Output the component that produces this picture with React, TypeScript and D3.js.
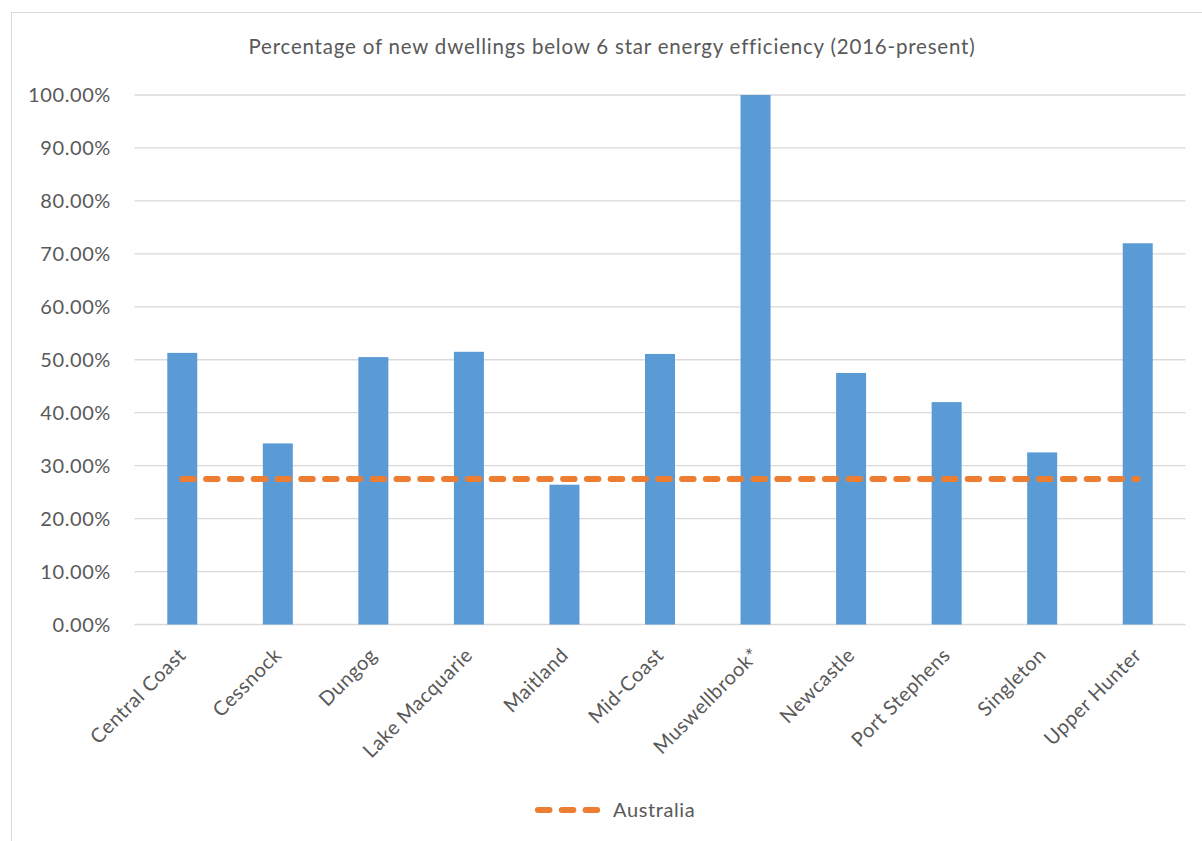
import React, { useRef, useEffect } from 'react';
import * as d3 from 'd3';

const categories = [
    'Central Coast',
    'Cessnock',
    'Dungog',
    'Lake Macquarie',
    'Maitland',
    'Mid-Coast',
    'Muswellbrook*',
    'Newcastle',
    'Port Stephens',
    'Singleton',
    'Upper Hunter'
]
const values = [51.3, 34.2, 50.5, 51.5, 26.4, 51.1, 100, 47.5, 42.0, 32.5, 72.0]
const australia = [27.5, 27.5, 27.5, 27.5, 27.5, 27.5, 27.5, 27.5, 27.5, 27.5, 27.5]
const yTicks = [0, 10, 20, 30, 40, 50, 60, 70, 80, 90, 100]

const title = 'Percentage of new dwellings below 6 star energy efficiency (2016-present)'

function App() {
    const ref = useRef<SVGSVGElement>(null)

    useEffect(() => {
        document.body.style.margin = '0'
        drawChart()
    }, [])

    const drawChart = () => {
        const W = 1202
        const H = 841
        const plot = { left: 134.5, right: 1185.5, top: 95, bottom: 624.5 }
        const font = 'Lato, "Open Sans", sans-serif'
        const textColor = '#595959'

        const svg = d3.select(ref.current)
        svg.selectAll('*').remove()

        // chart frame
        svg
            .append('rect')
            .attr('x', 11.5)
            .attr('y', 12.5)
            .attr('width', W)
            .attr('height', H)
            .attr('fill', 'white')
            .attr('stroke', '#d9d9d9')
            .attr('stroke-width', 1)

        const x = d3
            .scaleBand()
            .domain(categories)
            .range([plot.left, plot.right])
            .paddingInner(0.686)
            .paddingOuter(0.343)

        const xc = d3
            .scalePoint()
            .domain(categories)
            .range([plot.left, plot.right])
            .padding(0.5)

        const y = d3.scaleLinear().domain([0, 100]).range([plot.bottom, plot.top])

        // gridlines
        svg
            .append('g')
            .selectAll('line')
            .data(yTicks)
            .join('line')
            .attr('x1', plot.left)
            .attr('x2', plot.right)
            .attr('y1', d => y(d))
            .attr('y2', d => y(d))
            .attr('stroke', '#d9d9d9')
            .attr('stroke-width', 1.3)

        // y labels
        svg
            .append('g')
            .selectAll('text')
            .data(yTicks)
            .join('text')
            .attr('x', 111)
            .attr('y', d => y(d))
            .attr('dy', '0.36em')
            .attr('text-anchor', 'end')
            .style('font-family', font)
            .style('font-size', '20px')
            .style('letter-spacing', '0.6px')
            .style('fill', textColor)
            .text(d => d.toFixed(2) + '%')

        // bars
        svg
            .append('g')
            .selectAll('rect')
            .data(values)
            .join('rect')
            .attr('x', (d, i) => x(categories[i]))
            .attr('y', d => y(d))
            .attr('width', x.bandwidth())
            .attr('height', d => y(0) - y(d))
            .attr('fill', '#5b9bd5')

        // Australia line
        const line = d3
            .line<number>()
            .x((d, i) => xc(categories[i]))
            .y(d => y(d))

        svg
            .append('path')
            .datum(australia)
            .attr('d', line)
            .attr('fill', 'none')
            .attr('stroke', '#ed7d31')
            .attr('stroke-width', 6)
            .attr('stroke-linecap', 'round')
            .attr('stroke-dasharray', '11.5,12.3')

        // category labels
        svg
            .append('g')
            .selectAll('text')
            .data(categories)
            .join('text')
            .attr('transform', d => `translate(${xc(d)}, ${plot.bottom + 27}) rotate(-45)`)
            .attr('text-anchor', 'end')
            .attr('dy', '0.35em')
            .style('font-family', font)
            .style('font-size', '20px')
            .style('letter-spacing', '0.5px')
            .style('fill', textColor)
            .text(d => d)

        // title
        svg
            .append('text')
            .attr('x', 612)
            .attr('y', 54)
            .attr('text-anchor', 'middle')
            .style('font-family', font)
            .style('font-size', '20.5px')
            .style('letter-spacing', '0.8px')
            .style('fill', textColor)
            .text(title)

        // legend
        const legend = svg.append('g').attr('transform', 'translate(538, 810)')
        legend
            .append('line')
            .attr('x1', 0)
            .attr('x2', 62)
            .attr('y1', 0)
            .attr('y2', 0)
            .attr('stroke', '#ed7d31')
            .attr('stroke-width', 6)
            .attr('stroke-linecap', 'round')
            .attr('stroke-dasharray', '11.5,12.3')
        legend
            .append('text')
            .attr('x', 75)
            .attr('y', 0)
            .attr('dy', '0.36em')
            .style('font-family', font)
            .style('font-size', '20px')
            .style('letter-spacing', '0.6px')
            .style('fill', textColor)
            .text('Australia')
    }

    return (
        <svg ref={ref} width={1202} height={841} style={{ display: 'block', background: 'white' }} />
    )
}

export default App
